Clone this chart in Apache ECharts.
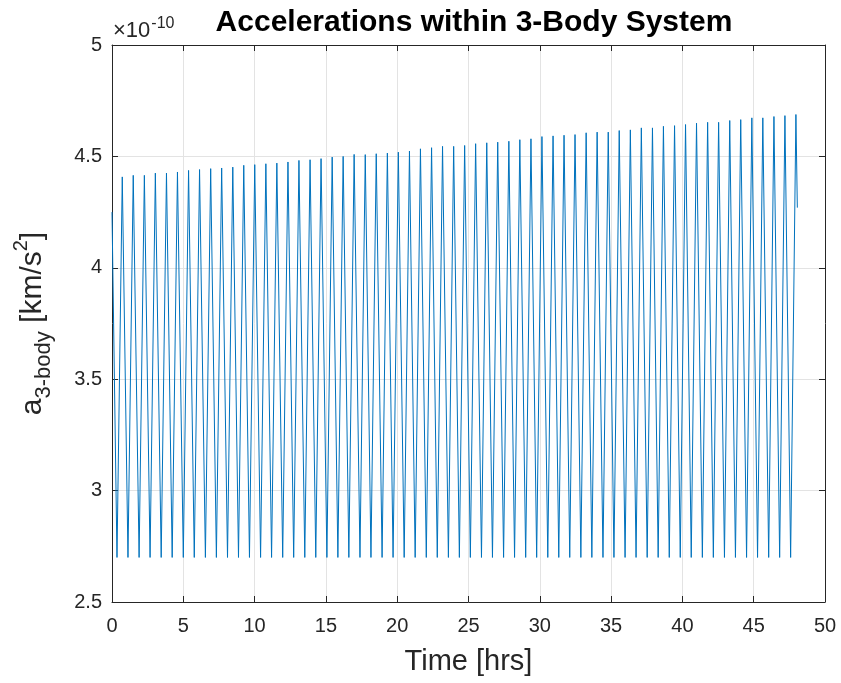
<!DOCTYPE html>
<html>
<head>
<meta charset="utf-8">
<script src="https://cdn.jsdelivr.net/npm/echarts@6/dist/echarts.min.js"></script>
<style>
html,body{margin:0;padding:0;background:#fff;}
#chart{width:841px;height:683px;}
</style>
</head>
<body>
<div id="chart"></div>
<script>
// Values in units of 1e-10 km/s^2, time in hours
var startPoint = [0, 4.25];
var endPoint = [48.06, 4.27];
var troughTimes = [0.35,1.12,1.90,2.67,3.45,4.22,5.00,5.77,6.55,7.32,8.10,8.87,9.64,10.42,11.19,11.97,12.74,13.52,14.29,15.07,15.84,16.61,17.39,18.16,18.94,19.71,20.49,21.26,22.04,22.81,23.59,24.36,25.13,25.91,26.68,27.46,28.23,29.01,29.78,30.56,31.33,32.10,32.88,33.65,34.43,35.20,35.98,36.75,37.53,38.30,39.08,39.85,40.62,41.40,42.17,42.95,43.72,44.50,45.27,46.05,46.82,47.59];
var troughValues = [2.70,2.70,2.70,2.70,2.70,2.70,2.70,2.70,2.70,2.70,2.70,2.70,2.70,2.70,2.70,2.70,2.70,2.70,2.70,2.70,2.70,2.70,2.70,2.70,2.70,2.70,2.70,2.70,2.70,2.70,2.70,2.70,2.70,2.70,2.70,2.70,2.70,2.70,2.70,2.70,2.70,2.70,2.70,2.70,2.70,2.70,2.70,2.70,2.70,2.70,2.70,2.70,2.70,2.70,2.70,2.70,2.70,2.70,2.70,2.70,2.70,2.70];
var peakTimes = [0.72,1.49,2.27,3.04,3.82,4.59,5.37,6.14,6.92,7.69,8.47,9.24,10.01,10.79,11.56,12.34,13.11,13.89,14.66,15.44,16.21,16.98,17.76,18.53,19.31,20.08,20.86,21.63,22.41,23.18,23.96,24.73,25.50,26.28,27.05,27.83,28.60,29.38,30.15,30.93,31.70,32.47,33.25,34.02,34.80,35.57,36.35,37.12,37.90,38.67,39.45,40.22,40.99,41.77,42.54,43.32,44.09,44.87,45.64,46.42,47.19,47.96];
var peakValues = [4.408,4.415,4.415,4.425,4.425,4.430,4.437,4.441,4.445,4.448,4.452,4.460,4.463,4.467,4.470,4.475,4.482,4.485,4.490,4.497,4.500,4.509,4.508,4.512,4.515,4.519,4.524,4.534,4.539,4.545,4.545,4.549,4.557,4.561,4.564,4.568,4.575,4.579,4.589,4.592,4.595,4.598,4.606,4.609,4.609,4.616,4.619,4.628,4.628,4.635,4.638,4.643,4.649,4.653,4.653,4.661,4.665,4.673,4.673,4.679,4.683,4.688];
var xTicks = [0,5,10,15,20,25,30,35,40,45,50];
var yTicks = [2.5,3,3.5,4,4.5,5];

var seriesData = [startPoint];
for (var i = 0; i < peakTimes.length; i++) {
  seriesData.push([troughTimes[i], troughValues[i]]);
  seriesData.push([peakTimes[i], peakValues[i]]);
}
seriesData.push(endPoint);

var axisColor = '#262626';
var gridColor = '#e3e3e3';
var fontFam = '"Liberation Sans", Arial, Helvetica, sans-serif';

var chart = echarts.init(document.getElementById('chart'), null, {renderer: 'canvas'});
var option = {
  animation: false,
  backgroundColor: '#ffffff',
  title: {
    text: 'Accelerations within 3-Body System',
    left: 469, top: 2, textAlign: 'center',
    textStyle: {fontFamily: fontFam, fontSize: 30, fontWeight: 'bold', color: '#000', lineHeight: 32}
  },
  grid: {left: 112, right: 16, top: 45, bottom: 79, containLabel: false},
  graphic: [{
    type: 'text', left: 113, top: 14,
    style: {
      text: '{m|×10}{p|-10}',
      fontFamily: fontFam,
      rich: {
        m: {fontSize: 22, fontFamily: fontFam, fill: axisColor, lineHeight: 28, verticalAlign: 'bottom'},
        p: {fontSize: 16, fontFamily: fontFam, fill: axisColor, lineHeight: 16, verticalAlign: 'top', padding: [2, 0, 0, 1]}
      }
    }
  }],
  xAxis: [{
    type: 'value', min: 0, max: 50, interval: 5,
    name: 'Time [hrs]', nameLocation: 'middle', nameGap: 44,
    nameTextStyle: {fontFamily: fontFam, fontSize: 29, color: axisColor, lineHeight: 32},
    axisLine: {show: true, onZero: false, lineStyle: {color: axisColor, width: 1}},
    axisTick: {show: true, inside: true, length: 6, lineStyle: {color: axisColor}},
    axisLabel: {fontFamily: fontFam, fontSize: 20, color: axisColor, margin: 14,
      customValues: xTicks},
    splitLine: {show: true, lineStyle: {color: gridColor, width: 1}}
  }, {
    type: 'value', min: 0, max: 50, interval: 5, position: 'top',
    axisLine: {show: true, onZero: false, lineStyle: {color: axisColor, width: 1}},
    axisTick: {show: true, inside: true, length: 6, lineStyle: {color: axisColor}},
    axisLabel: {show: false},
    splitLine: {show: false}
  }],
  yAxis: [{
    type: 'value', min: 2.5, max: 5, interval: 0.5,
    name: '{a|a}{s|3-body}{a| [km/s}{p|2}{a|]}',
    nameLocation: 'middle', nameGap: 57, nameRotate: 90,
    nameTextStyle: {
      fontFamily: fontFam, color: axisColor,
      rich: {
        a: {fontSize: 30, fontFamily: fontFam, color: axisColor, lineHeight: 44, verticalAlign: 'middle'},
        s: {fontSize: 22, fontFamily: fontFam, color: axisColor, lineHeight: 22, verticalAlign: 'bottom'},
        p: {fontSize: 20, fontFamily: fontFam, color: axisColor, lineHeight: 20, verticalAlign: 'top'}
      }
    },
    axisLine: {show: true, onZero: false, lineStyle: {color: axisColor, width: 1}},
    axisTick: {show: true, inside: true, length: 6, lineStyle: {color: axisColor}},
    axisLabel: {fontFamily: fontFam, fontSize: 20, color: axisColor, margin: 10,
      customValues: yTicks},
    splitLine: {show: true, lineStyle: {color: gridColor, width: 1}}
  }, {
    type: 'value', min: 2.5, max: 5, interval: 0.5, position: 'right',
    axisLine: {show: true, onZero: false, lineStyle: {color: axisColor, width: 1}},
    axisTick: {show: true, inside: true, length: 6, lineStyle: {color: axisColor}},
    axisLabel: {show: false},
    splitLine: {show: false}
  }],
  series: [{
    type: 'line',
    xAxisIndex: 0, yAxisIndex: 0,
    data: seriesData,
    showSymbol: false,
    symbol: 'none',
    sampling: null,
    lineStyle: {color: '#0072BD', width: 1},
    z: 3
  }]
};
chart.setOption(option);
</script>
</body>
</html>
